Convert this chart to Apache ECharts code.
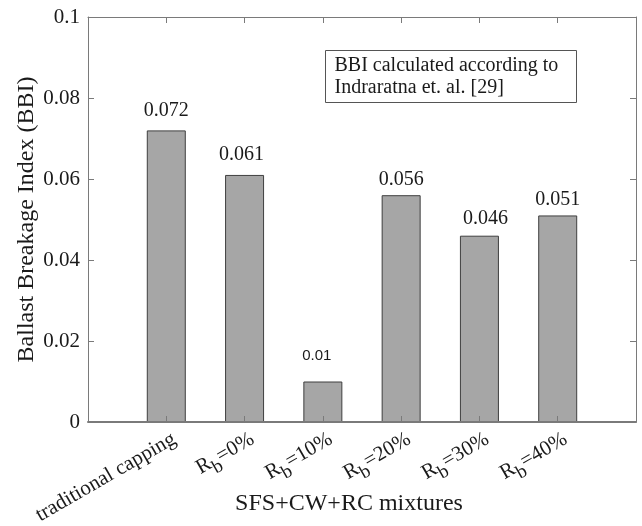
<!DOCTYPE html>
<html>
<head>
<meta charset="utf-8">
<script src="https://cdn.jsdelivr.net/npm/echarts@6/dist/echarts.min.js"></script>
<style>
  html, body { margin: 0; padding: 0; background: #fff; }
  #chart { width: 642px; height: 526px; }
</style>
</head>
<body>
<div id="chart"></div>
<script>
// Mixture labels; "_b" marks a subscript b
const categories = ['traditional capping', 'R_b=0%', 'R_b=10%', 'R_b=20%', 'R_b=30%', 'R_b=40%'];
// Ballast Breakage Index per mixture
const bbi = [0.072, 0.061, 0.01, 0.056, 0.046, 0.051];
// y tick values
const yTicks = [0, 0.02, 0.04, 0.06, 0.08, 0.1];

// value-label placement per bar: [horizontal shift, gap above bar]
const labelPlacement = [[0, 10], [-3, 10], [-6, 18], [0, 5], [6, 7], [0, 6]];

const SERIF = 'Liberation Serif';
const AXIS_COLOR = '#7a7a7a';
const TEXT_COLOR = '#1a1a1a';

function richLabel(s) {
  const k = s.indexOf('_');
  if (k < 0) return '{main|' + s + '}';
  return '{main|' + s.slice(0, k) + '}{sub|' + s.charAt(k + 1) + '}{main|' + s.slice(k + 2) + '}';
}

const chart = echarts.init(document.getElementById('chart'), null, { renderer: 'canvas' });

const tickStyle = { show: true, inside: true, length: 6, lineStyle: { color: AXIS_COLOR, width: 1 } };
const lineStyle = { show: true, onZero: false, lineStyle: { color: AXIS_COLOR, width: 1 } };
// the baseline sits over the bar bottoms, drawn a little heavier
const baseLineStyle = { show: true, onZero: false, lineStyle: { color: AXIS_COLOR, width: 2 } };

chart.setOption({
  animation: false,
  backgroundColor: '#fff',
  grid: { left: 88, top: 17, right: 6, bottom: 104, show: false, containLabel: false, outerBoundsMode: 'none' },
  xAxis: [{
    type: 'value',
    min: 0, max: categories.length + 1, interval: 1,
    z: 5,
    axisLine: baseLineStyle,
    axisTick: tickStyle,
    splitLine: { show: false },
    axisLabel: {
      rotate: 30,
      margin: 10,
      padding: [18, -4, 0, 0],
      color: TEXT_COLOR,
      fontFamily: SERIF,
      fontSize: 21,
      formatter: function (v) {
        const c = categories[Math.round(v) - 1];
        return c ? richLabel(c) : '';
      },
      rich: {
        main: { fontFamily: SERIF, fontSize: 21, color: TEXT_COLOR, lineHeight: 21 },
        sub: { fontFamily: SERIF, fontSize: 19, color: TEXT_COLOR, lineHeight: 19, padding: [16, 0, 0, 0] }
      }
    },
    name: 'SFS+CW+RC mixtures',
    nameLocation: 'middle',
    nameGap: 70,
    nameMoveOverlap: false,
    nameTextStyle: { fontFamily: SERIF, fontSize: 24, color: TEXT_COLOR, padding: [0, 26, 0, 0] }
  }, {
    type: 'value',
    position: 'top',
    min: 0, max: categories.length + 1, interval: 1,
    z: 5,
    axisLine: lineStyle,
    axisTick: tickStyle,
    axisLabel: { show: false },
    splitLine: { show: false }
  }],
  yAxis: [{
    type: 'value',
    min: yTicks[0], max: yTicks[yTicks.length - 1], interval: 0.02,
    z: 5,
    axisLine: lineStyle,
    axisTick: tickStyle,
    splitLine: { show: false },
    axisLabel: {
      margin: 8,
      color: TEXT_COLOR,
      fontFamily: SERIF,
      fontSize: 21,
      formatter: function (v) { return String(+v.toFixed(2)); }
    },
    name: 'Ballast Breakage Index (BBI)',
    nameLocation: 'middle',
    nameGap: 49,
    nameMoveOverlap: false,
    nameTextStyle: { fontFamily: SERIF, fontSize: 24, color: TEXT_COLOR }
  }, {
    type: 'value',
    position: 'right',
    min: yTicks[0], max: yTicks[yTicks.length - 1], interval: 0.02,
    z: 5,
    axisLine: lineStyle,
    axisTick: tickStyle,
    axisLabel: { show: false },
    splitLine: { show: false }
  }],
  series: [{
    type: 'bar',
    xAxisIndex: 0,
    yAxisIndex: 0,
    barWidth: 39,
    itemStyle: { color: '#a6a6a6', borderColor: '#3f3f3f', borderWidth: 1 },
    label: {
      show: true,
      position: 'top',
      fontFamily: SERIF,
      fontSize: 20,
      color: TEXT_COLOR,
      formatter: function (p) { return String(p.value[1]); }
    },
    data: bbi.map(function (v, i) {
      const place = labelPlacement[i];
      const item = { value: [i + 1, v], label: { distance: place[1], offset: [place[0], 0] } };
      if (v < 0.02) {
        item.label.fontFamily = 'Liberation Sans';
        item.label.fontSize = 15;
      }
      return item;
    })
  }],
  graphic: [{
    type: 'group',
    left: 325,
    top: 50,
    children: [{
      type: 'rect',
      shape: { x: 0, y: 0, width: 251, height: 52 },
      style: { fill: '#fff', stroke: '#555', lineWidth: 1 }
    }, {
      type: 'text',
      x: 9, y: 4,
      style: {
        text: 'BBI calculated according to\nIndraratna et. al. [29]',
        fontFamily: SERIF,
        fontSize: 20,
        lineHeight: 22,
        fill: TEXT_COLOR
      }
    }]
  }]
});
</script>
</body>
</html>
